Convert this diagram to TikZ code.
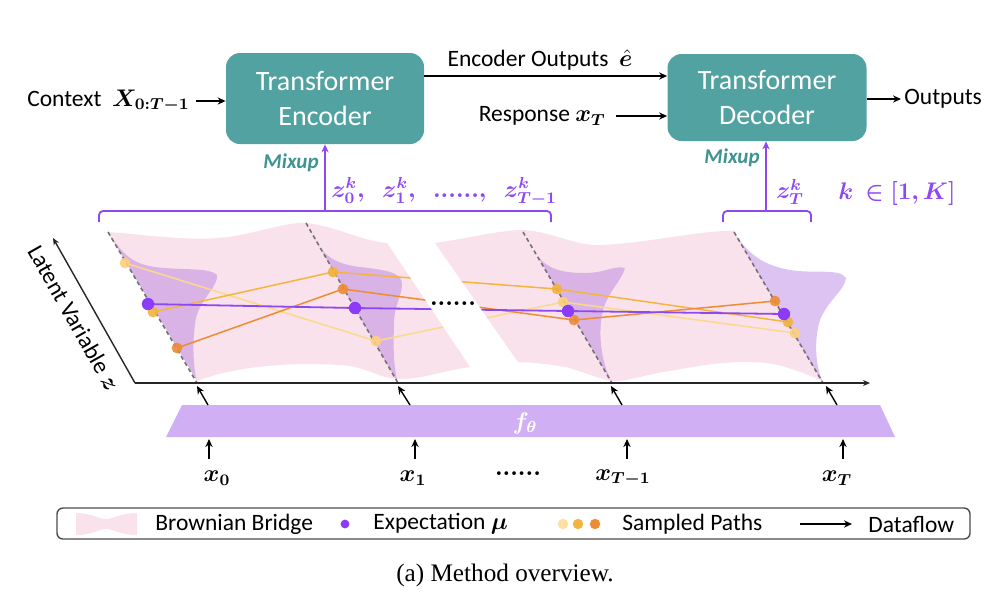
\documentclass[tikz,border=0pt]{standalone}
\usepackage{amsmath}
\usepackage{bm}
\usepackage{fontspec}
\setmainfont{Carlito}
\newfontfamily\capfont{Liberation Serif}
\usetikzlibrary{arrows.meta}
\definecolor{tealbox}{HTML}{52A2A2}
\definecolor{tealtxt}{HTML}{3E9393}
\definecolor{vio}{HTML}{8E48F2}
\definecolor{viodot}{HTML}{8A3CF7}
\definecolor{pinkbr}{HTML}{F9E2EC}
\definecolor{distr}{HTML}{B57BE0}
\definecolor{fth}{HTML}{D0AFF5}
\definecolor{pY}{HTML}{FBD98B}
\definecolor{pM}{HTML}{F3B53E}
\definecolor{pO}{HTML}{EC8C35}
\tikzset{
  txt/.style={font=\fontsize{11.75}{14}\selectfont, inner sep=1pt},
  tbox/.style={fill=tealbox, rounded corners=7pt, text=white, font=\fontsize{14}{17.5}\selectfont, align=center, inner sep=0pt},
  flow/.style={-{Stealth[length=4pt,width=3.6pt]}, line width=0.7pt, black},
  mixarr/.style={-{Stealth[length=4pt,width=3.6pt]}, line width=0.8pt, vio},
  brk/.style={vio, line width=0.9pt, rounded corners=2pt},
  mixlbl/.style={text=tealtxt, font=\fontsize{10.5}{12}\selectfont\bfseries\itshape, inner sep=0pt},
  zlbl/.style={text=vio, font=\fontsize{11.75}{14}\selectfont, inner sep=0pt},
  distshape/.style={fill=distr, fill opacity=0.45},
  dline/.style={draw=black!55, line width=0.8pt, dash pattern=on 2pt off 1.6pt},
  pln/.style={line width=0.75pt},
  axisln/.style={-{Stealth[length=3.5pt,width=3pt]}, line width=0.7pt, black!85},
}
\begin{document}
\begin{tikzpicture}[x=0.5pt,y=-0.5pt]
\useasboundingbox (0,0) rectangle (994,596);
\fill[white] (0,0) rectangle (994,596);

% ---------- top boxes ----------
\node[tbox, minimum width=99pt, minimum height=45.5pt] (enc) at (325,98.5) {Transformer\\Encoder};
\node[tbox, minimum width=99.5pt, minimum height=43.5pt] (dec) at (767,97.5) {Transformer\\Decoder};

\node[txt, anchor=east] (ctx) at (192,101) {Context \ $\bm{X_{0:T-1}}$};
\draw[flow] ([xshift=2pt]ctx.east) -- (ctx.east -| enc.west);

\node[txt] (eo) at (540,60) {Encoder Outputs \ $\bm{\hat{e}}$};
\coordinate (eoy) at (0,76);
\draw[flow] (enc.east |- eoy) -- (dec.west |- eoy);

\node[txt, anchor=east] (resp) at (608,116) {Response $\bm{x_T}$};
\draw[flow] ([xshift=4pt]resp.east) -- (resp.east -| dec.west);

\node[txt, anchor=west, inner sep=1.5pt] (out) at (901,99) {Outputs};
\draw[flow] (dec.east |- out.west) -- (out.west);

% ---------- brackets & mixup ----------
\coordinate (brL) at (325,211);
\coordinate (brR) at (766,211);
\draw[brk] (99,222) -- (99,211) -- (551,211) -- (551,222);
\draw[brk] (723,222) -- (723,211) -- (811,211) -- (811,222);
\draw[mixarr] (brL) -- (brL |- enc.south);
\draw[mixarr] (brR) -- (brR |- dec.south);
\node[mixlbl, anchor=east] (mx1) at (319,163) {Mixup};
\node[mixlbl, anchor=east] (mx2) at (760,158) {Mixup};
\node[zlbl, anchor=west] (zs) at (331,192) {$\bm{z_0^k,\;\; z_1^k,\;\; ......,\;\; z_{T-1}^k}$};
\node[zlbl] (zt) at (790,192) {$\bm{z_T^k}$};
\node[zlbl] (kk) at (897,193) {$\bm{k\ \in [1,K]}$};

% ---------- latent region ----------
\coordinate (t1) at (108,232); \coordinate (b1) at (197,383);
\coordinate (t2) at (306,223); \coordinate (b2) at (398,383);
\coordinate (t3) at (523,232); \coordinate (b3) at (612,383);
\coordinate (t4) at (734,232); \coordinate (b4) at (823,383);

\begin{scope}
\clip (108,232) .. controls (160,236) and (200,243) .. (240,235)
   .. controls (270,229) and (290,222) .. (306,223)
   .. controls (335,226) and (362,241) .. (387,243)
   -- (470,367)
   .. controls (445,370) and (420,380) .. (398,379)
   .. controls (378,378) and (365,366) .. (340,365)
   .. controls (290,362) and (235,366) .. (197,381)
   -- cycle
   (435,243) .. controls (470,238) and (500,230) .. (523,230)
   .. controls (550,231) and (575,246) .. (600,245)
   .. controls (650,243) and (700,230) .. (734,231)
   -- (823,381)
   .. controls (800,372) and (780,362) .. (750,362)
   .. controls (710,362) and (690,368) .. (663,372)
   .. controls (640,376) and (625,382) .. (612,381)
   .. controls (595,378) and (575,368) .. (560,366)
   .. controls (545,364) and (530,362) .. (518,362)
   -- cycle;
\fill[pinkbr] (90,200) rectangle (900,400);
% distributions
\fill[distshape] (t1) .. controls (125,258) and (135,266) .. (165,268)
   .. controls (190,270) and (210,268) .. (217,275)
   .. controls (219,285) and (200,300) .. (196,318)
   .. controls (192,340) and (193,365) .. (b1) -- cycle;
\fill[distshape] (314,237) .. controls (322,255) and (335,264) .. (360,267)
   .. controls (385,270) and (402,272) .. (402,284)
   .. controls (402,296) and (394,305) .. (394,325)
   .. controls (393,350) and (394,370) .. (b2) -- cycle;
\fill[distshape] (538,257) .. controls (548,268) and (560,273) .. (585,273)
   .. controls (605,273) and (615,265) .. (625,268)
   .. controls (622,280) and (608,292) .. (603,310)
   .. controls (598,330) and (600,360) .. (b3) -- cycle;
% sampled paths
\draw[pln, pY] (125,263) -- (376,341) -- (563,302) -- (795,333);
\draw[pln, pM] (153,312) -- (333,272) -- (557,289) -- (788,322);
\draw[pln, pO] (177,348) -- (343,289) -- (574,320) -- (775,301);
\draw[line width=0.9pt, vio] (148,304) -- (355,308) -- (568,311) -- (784,314);
\end{scope}
\fill[distshape] (t4) .. controls (745,250) and (760,265) .. (790,270)
   .. controls (815,274) and (840,268) .. (846,278)
   .. controls (845,290) and (828,300) .. (820,320)
   .. controls (814,340) and (815,365) .. (b4) -- cycle;

\draw[dline] (t1) -- (b1);
\draw[dline] (t2) -- (b2);
\draw[dline] (t3) -- (b3);
\draw[dline] (t4) -- (b4);

\node[font=\fontsize{11.75}{14}\selectfont, inner sep=0pt] (gap) at (453,304) {$\bm{......}$};

% dots
\foreach \p in {(125,263),(376,341),(563,302),(795,333)}
  \fill[pY!90!orange, fill opacity=0.9] \p circle[radius=2.7pt];
\foreach \p in {(153,312),(333,272),(557,289),(788,322)}
  \fill[pM!95!orange, fill opacity=0.9] \p circle[radius=2.7pt];
\foreach \p in {(177,348),(343,289),(574,320),(775,301)}
  \fill[pO, fill opacity=0.9] \p circle[radius=2.7pt];
\foreach \p in {(148,304),(355,308),(568,311),(784,314)}
  \fill[viodot] \p circle[radius=3.1pt];

% axes
\coordinate (O) at (135,383);
\draw[axisln] (O) -- (870,383);
\draw[axisln] (O) -- (53,238);
\node[txt, rotate=-60.5] (lv) at (74,318) {Latent Variable $\bm{z}$};

% ---------- f_theta ----------
\fill[fth] (182,405) -- (880,405) -- (895,437) -- (166,437) -- cycle;
\node[text=white, font=\fontsize{12}{14}\selectfont, inner sep=0pt] (ft) at (525,423) {$\bm{f_\theta}$};
\coordinate (a1) at (208,405); \coordinate (c1) at (197,386);
\coordinate (a2) at (410,405); \coordinate (c2) at (398,386);
\coordinate (a3) at (622,405); \coordinate (c3) at (611,386);
\coordinate (a4) at (837,405); \coordinate (c4) at (826,386);
\draw[flow] (a1) -- (c1);
\draw[flow] (a2) -- (c2);
\draw[flow] (a3) -- (c3);
\draw[flow] (a4) -- (c4);

\node[txt] (x0) at (217,478) {$\bm{x_0}$};
\node[txt] (x1) at (413,478) {$\bm{x_1}$};
\node[txt] (xd) at (518,474) {$\bm{......}$};
\node[txt] (xT1) at (623,478) {$\bm{x_{T-1}}$};
\node[txt] (xT) at (837,478) {$\bm{x_T}$};
\coordinate (u1) at (209,459); \coordinate (v1) at (209,439);
\coordinate (u2) at (415,459); \coordinate (v2) at (415,439);
\coordinate (u3) at (627,459); \coordinate (v3) at (627,439);
\coordinate (u4) at (843,459); \coordinate (v4) at (843,439);
\draw[flow] (u1) -- (v1);
\draw[flow] (u2) -- (v2);
\draw[flow] (u3) -- (v3);
\draw[flow] (u4) -- (v4);

% ---------- legend ----------
\draw[black!70, line width=0.7pt, rounded corners=3pt] (57,508) rectangle (970,539);
\fill[pinkbr] (76,513) .. controls (92,513) and (98,519) .. (106,519)
   .. controls (114,519) and (120,513) .. (137,513) -- (137,535)
   .. controls (120,535) and (114,529) .. (106,529)
   .. controls (98,529) and (92,535) .. (76,535) -- cycle;
\node[txt, anchor=west] (lg1) at (153,524) {Brownian Bridge};
\fill[viodot] (345,524) circle[radius=2.2pt];
\node[txt, anchor=west] (lg2) at (371,524) {Expectation $\bm{\mu}$};
\fill[pY!80!white] (563,524) circle[radius=2.6pt];
\fill[pM] (578,524) circle[radius=2.6pt];
\fill[pO] (595,524) circle[radius=2.6pt];
\node[txt, anchor=west] (lg3) at (620,524) {Sampled Paths};
\coordinate (la) at (800,524); \coordinate (lb) at (852,524);
\draw[flow] (la) -- (lb);
\node[txt, anchor=west] (lg4) at (866,524) {Dataflow};

\node[font=\capfont\fontsize{12.6}{15}\selectfont, inner sep=0pt] (cap) at (505,575) {(a) Method overview.};
\end{tikzpicture}
\end{document}
